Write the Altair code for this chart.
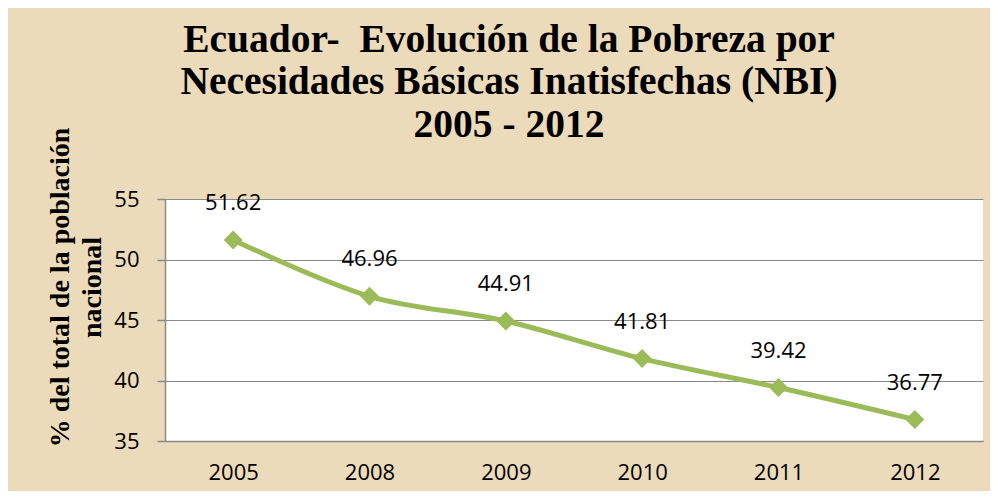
import altair as alt
import pandas as pd

years = ["2005", "2008", "2009", "2010", "2011", "2012"]
values = [51.62, 46.96, 44.91, 41.81, 39.42, 36.77]
y_ticks = [35, 40, 45, 50, 55]
title_lines = ["Ecuador-\u00a0 Evolución de la Pobreza por",
               "Necesidades Básicas Inatisfechas (NBI)",
               "2005 - 2012"]
y_title = ["% del total de la población", "nacional"]

df = pd.DataFrame({"year": years, "value": values})

GRAY = "#898989"
GREEN = "#9BBB59"

x = alt.X("year:N", sort=years,
          scale=alt.Scale(type="point", padding=0.5),
          axis=alt.Axis(title=None, labelAngle=0, ticks=False, tickSize=0,
                        labelPadding=21, labelFontSize=22, labelFont="Open Sans",
                        labelColor="black", domainColor=GRAY, domainWidth=1.5,
                        grid=False))
y = alt.Y("value:Q",
          scale=alt.Scale(domain=[35, 55], nice=False, zero=False),
          axis=alt.Axis(values=y_ticks, title=y_title,
                        titleFont="Liberation Serif", titleFontSize=28,
                        titleFontWeight="bold", titleAngle=270,
                        titleX=-105, titleY=88, titleAlign="center",
                        titleBaseline="middle", titleLineHeight=32,
                        titleColor="black",
                        labelFont="Open Sans", labelFontSize=22,
                        labelColor="black", labelPadding=18,
                        tickSize=8, tickColor=GRAY, tickWidth=1.5,
                        domainColor=GRAY, domainWidth=1.5,
                        gridColor=GRAY, gridWidth=1.2))

base = alt.Chart(df).encode(x=x, y=y)

line = base.mark_line(color=GREEN, strokeWidth=5, interpolate="catmull-rom")
pts = base.mark_point(shape="diamond", filled=True, size=360, color=GREEN, opacity=1)
labels = base.mark_text(dy=-37, fontSize=22, font="Open Sans", color="black").encode(
    text=alt.Text("value:Q", format=".2f"))

chart = alt.layer(line, pts, labels).properties(
    width=818, height=242,
    padding={"left": 157, "top": 191, "right": 7, "bottom": 50},
    autosize="none",
    background="#ECDBBA",
    title=alt.Title(title_lines, font="Liberation Serif", fontSize=39.5,
                    fontWeight="bold", color="black", lineHeight=42.5,
                    anchor="middle", dx=-65, dy=18, offset=0),
).configure_view(fill="white", strokeWidth=0)

chart.save("out.html", embed_options={"renderer": "svg", "actions": False})
